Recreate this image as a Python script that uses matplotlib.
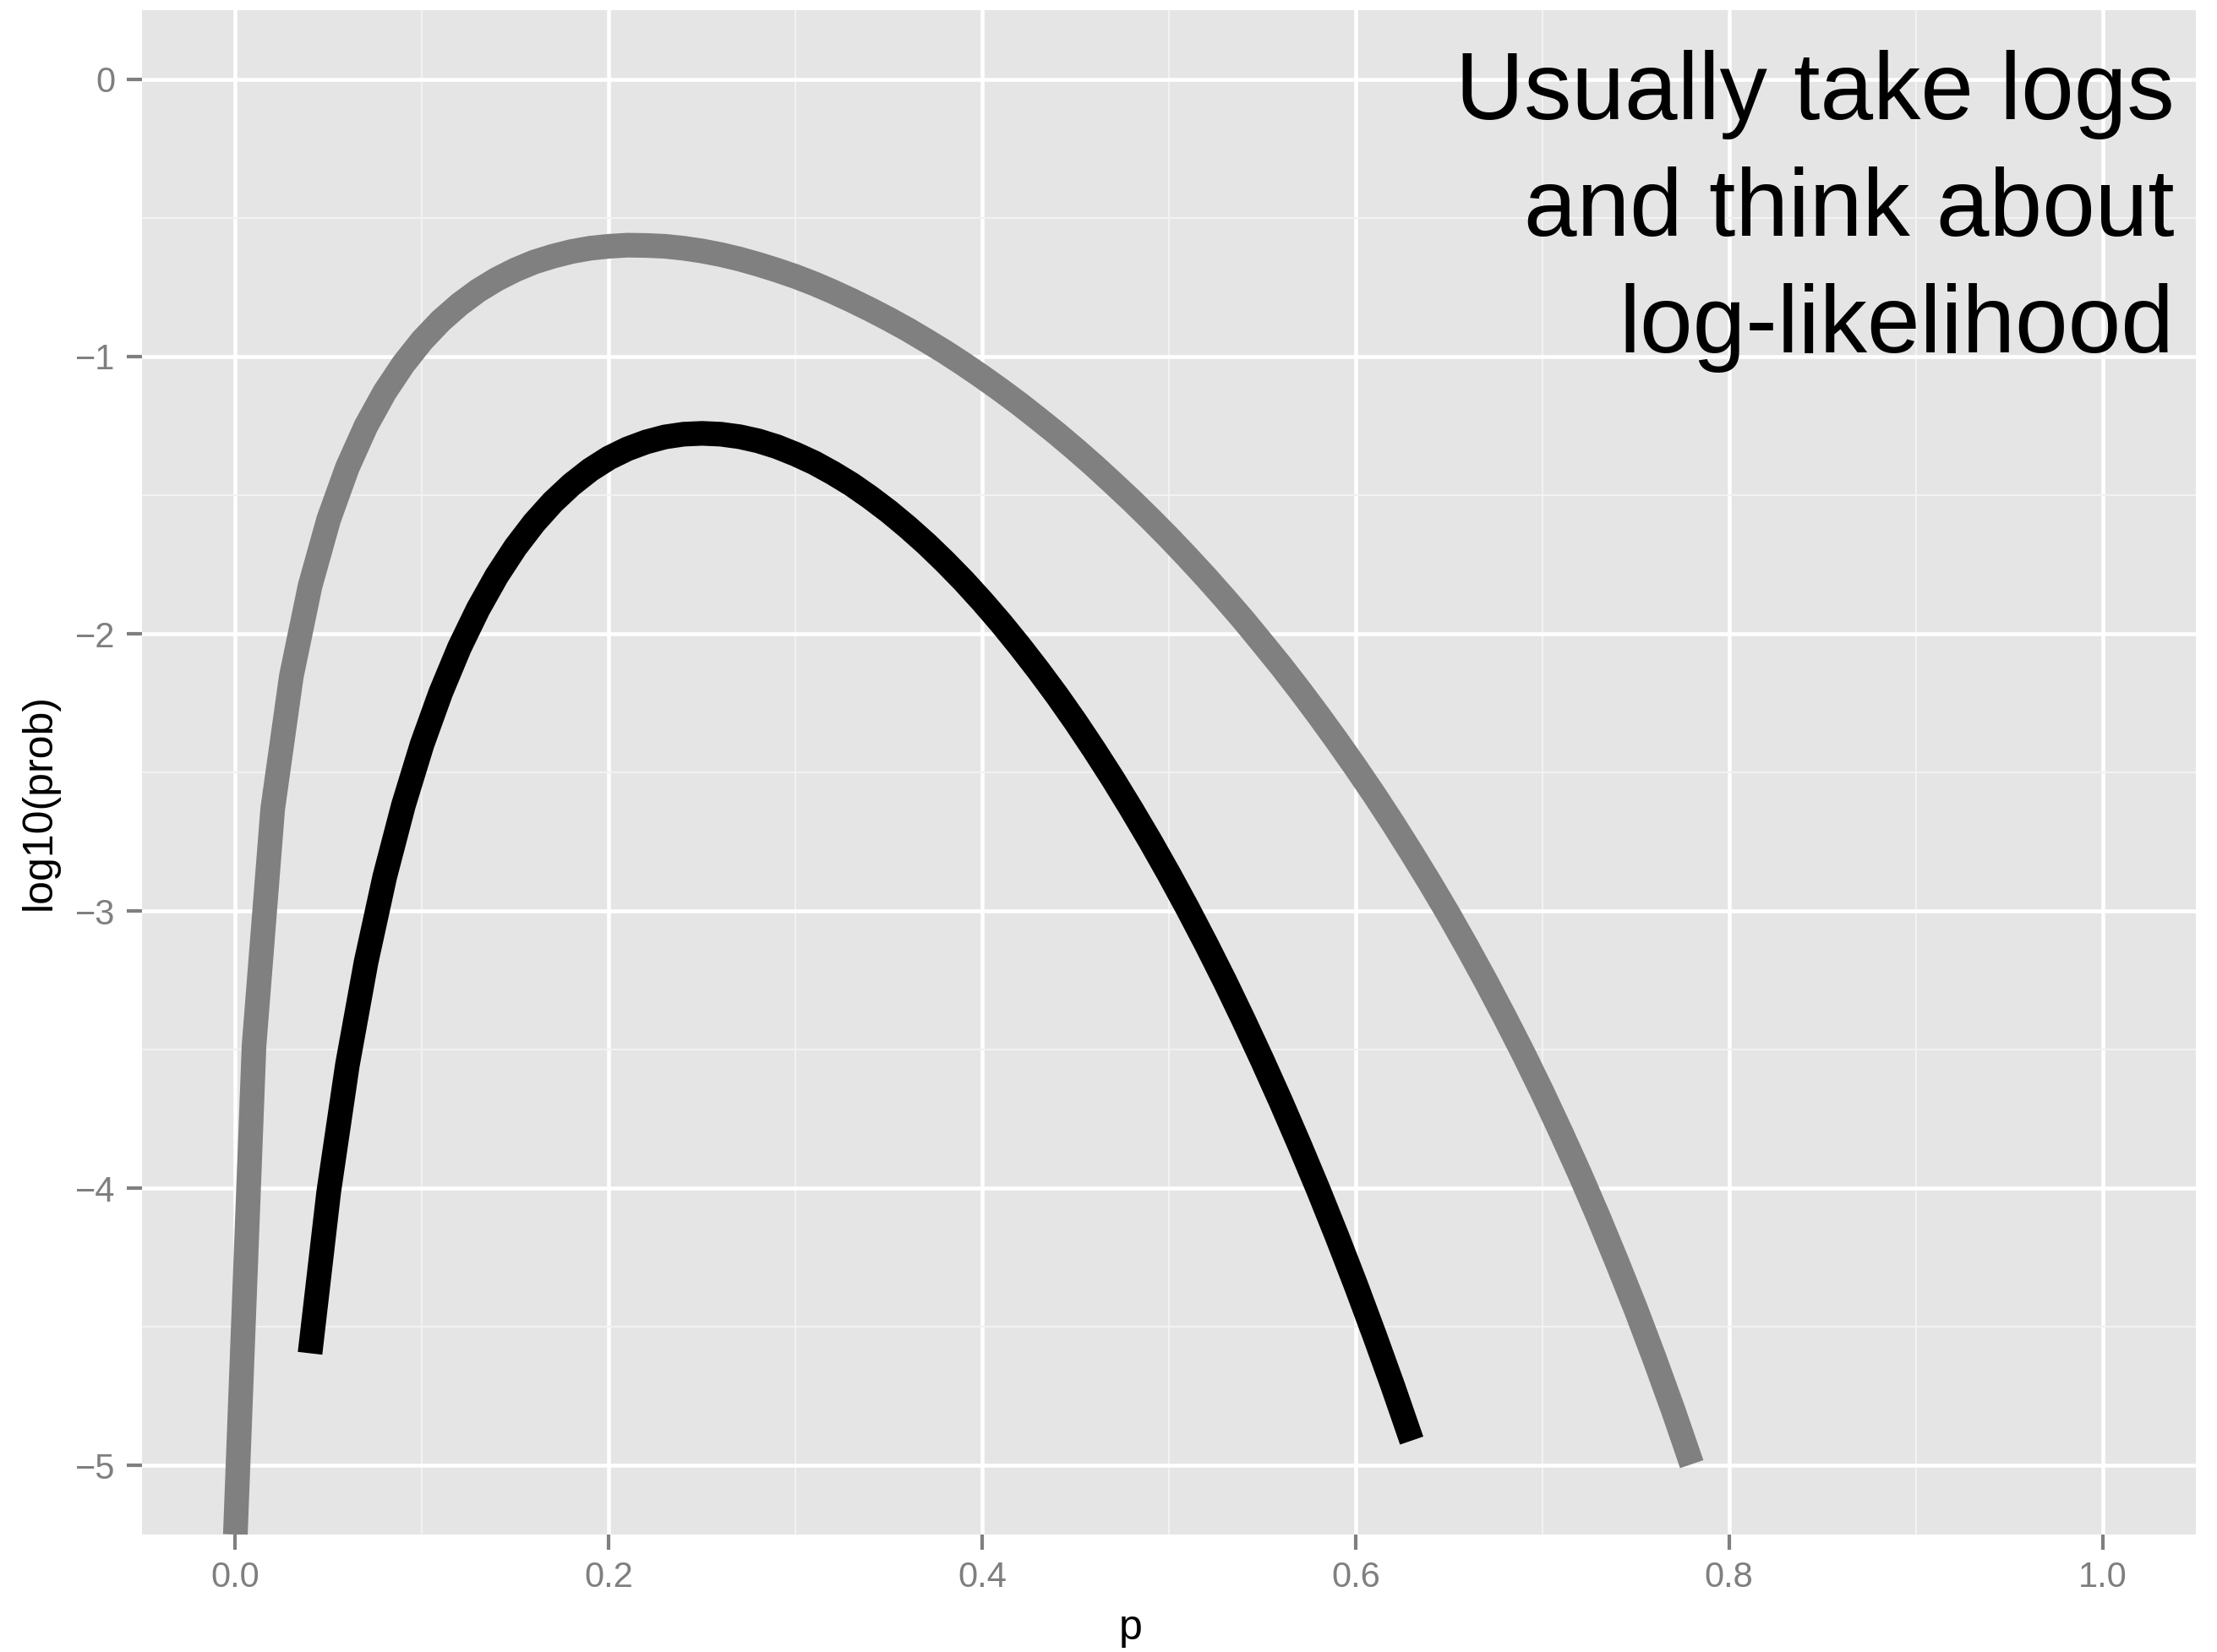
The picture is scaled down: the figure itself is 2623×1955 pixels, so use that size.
import numpy as np
import matplotlib
matplotlib.use("Agg")
import matplotlib.pyplot as plt

plt.rcParams['font.family'] = ['Liberation Sans', 'DejaVu Sans']

# grey curve, p = 0.00 ... 0.78 in steps of 0.01;
# the first point runs off the bottom of the panel
p_grey = np.round(np.arange(0, 79) / 100, 2)
lp_grey = [-5.25,
           -3.487, -2.632, -2.153, -1.828, -1.587, -1.400, -1.250, -1.128, -1.027, -0.942,
           -0.871, -0.812, -0.762, -0.721, -0.687, -0.659, -0.638, -0.621, -0.609, -0.602,
           -0.598, -0.599, -0.602, -0.609, -0.619, -0.632, -0.648, -0.667, -0.688, -0.711,
           -0.737, -0.766, -0.797, -0.830, -0.865, -0.902, -0.942, -0.983, -1.027, -1.073,
           -1.121, -1.171, -1.224, -1.278, -1.335, -1.394, -1.456, -1.519, -1.585, -1.653,
           -1.724, -1.797, -1.873, -1.951, -2.033, -2.116, -2.203, -2.293, -2.386, -2.482,
           -2.581, -2.684, -2.791, -2.901, -3.015, -3.134, -3.257, -3.385, -3.517, -3.655,
           -3.799, -3.948, -4.104, -4.267, -4.436, -4.614, -4.800, -4.996]

# black curve, p = 0.04 ... 0.63
p_black = np.round(np.arange(4, 64) / 100, 2)
lp_black = [-4.596, -4.014, -3.556, -3.185, -2.877, -2.619, -2.399,
            -2.212, -2.050, -1.911, -1.791, -1.688, -1.600, -1.525, -1.462, -1.409, -1.366,
            -1.333, -1.308, -1.290, -1.280, -1.277, -1.280, -1.289, -1.304, -1.325, -1.352,
            -1.383, -1.420, -1.461, -1.508, -1.559, -1.615, -1.675, -1.740, -1.809, -1.883,
            -1.961, -2.044, -2.131, -2.222, -2.318, -2.419, -2.524, -2.634, -2.748, -2.867,
            -2.991, -3.120, -3.254, -3.394, -3.539, -3.689, -3.845, -4.006, -4.174, -4.348,
            -4.529, -4.716, -4.911]

x_ticks = [0.0, 0.2, 0.4, 0.6, 0.8, 1.0]
x_labels = ['0.0', '0.2', '0.4', '0.6', '0.8', '1.0']
y_ticks = [0, -1, -2, -3, -4, -5]
note = "Usually take logs\nand think about\nlog-likelihood"

W, H = 2623, 1955
fig = plt.figure(figsize=(W / 300, H / 300), dpi=300)
ax = fig.add_axes([168 / W, 1 - 1816 / H, (2598 - 168) / W, (1816 - 12) / H])

ax.set_facecolor('#E5E5E5')
for s in ax.spines.values():
    s.set_visible(False)

ax.set_xlim(-0.05, 1.05)
ax.set_ylim(-5.25, 0.25)
ax.set_xticks(x_ticks)
ax.set_xticklabels(x_labels)
ax.set_yticks(y_ticks)
ax.set_xticks(np.arange(0.1, 1.0, 0.2), minor=True)
ax.set_yticks(np.arange(-4.5, 0, 1.0), minor=True)
ax.grid(which='major', color='white', linewidth=1.1)
ax.grid(which='minor', color='#F2F2F2', linewidth=0.5)
ax.set_axisbelow(True)
ax.tick_params(which='major', length=4.3, width=1.0, color='#7F7F7F',
               labelcolor='#7F7F7F', labelsize=10, pad=3.2)
ax.tick_params(which='minor', length=0)

ax.plot(p_grey, lp_grey, color='#808080', linewidth=7,
        solid_capstyle='butt', solid_joinstyle='round')
ax.plot(p_black, lp_black, color='black', linewidth=7,
        solid_capstyle='butt', solid_joinstyle='round')

# va='baseline' pins the last line's baseline
ax.text(1.0385, -0.984, note, ha='right', va='baseline', fontsize=27,
        linespacing=1.39, color='black', multialignment='right')

fig.text(1338 / W, 1 - 1927 / H, 'p', ha='center', va='center', fontsize=12)
fig.text(47 / W, 1 - 949 / H, 'log10(prob)', ha='center', va='center',
         fontsize=12, rotation=90)

fig.savefig('out.png', dpi=300)
